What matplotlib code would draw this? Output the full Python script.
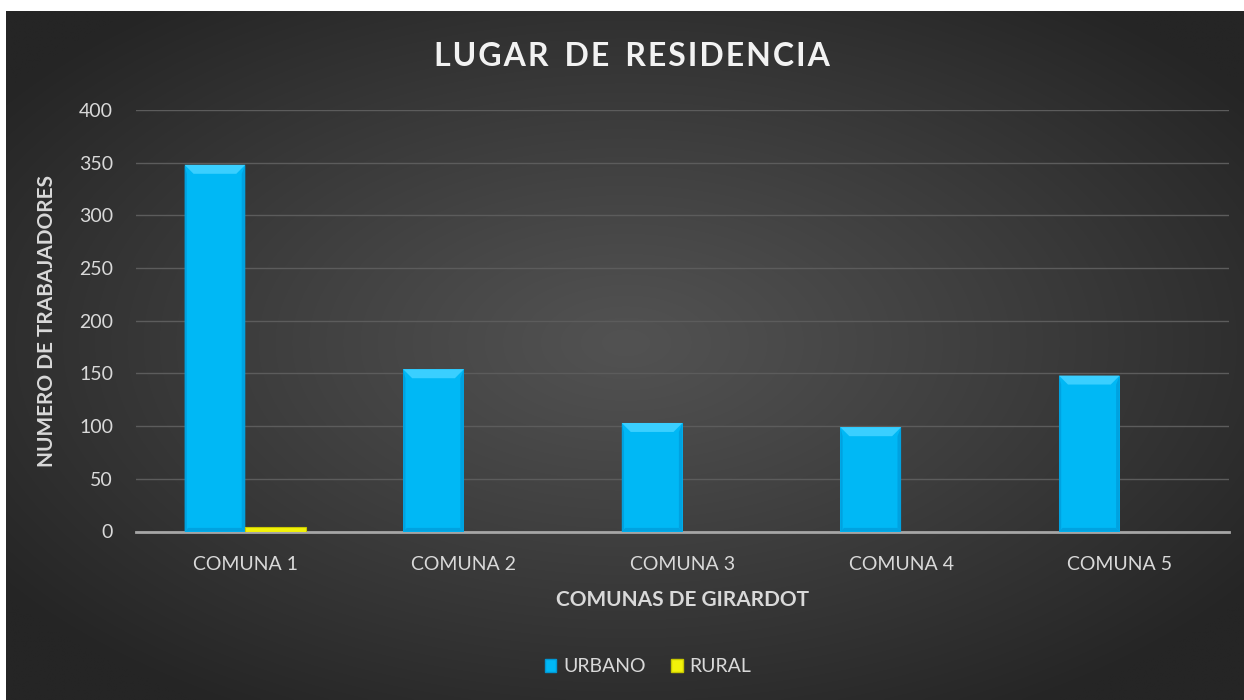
import numpy as np
import matplotlib
matplotlib.use("Agg")
import matplotlib.pyplot as plt
from matplotlib.patches import Polygon, Rectangle

categories = ["COMUNA 1", "COMUNA 2", "COMUNA 3", "COMUNA 4", "COMUNA 5"]
urbano = [348, 154, 103, 99, 148]
rural = [4, 0, 0, 0, 0]
series_names = ["URBANO", "RURAL"]
yticks = [0, 50, 100, 150, 200, 250, 300, 350, 400]

plt.rcParams['font.family'] = ['Lato', 'DejaVu Sans']
TXT = '#D9D9D9'
W, H = 1244, 700
fig = plt.figure(figsize=(W / 100, H / 100), dpi=100, facecolor='white')

# background with radial gradient
bg = fig.add_axes([6 / W, 0, (W - 6) / W, (H - 11) / H])
bg.set_axis_off()
ny, nx = 300, 540
yy, xx = np.mgrid[0:ny, 0:nx]
cx, cy = nx * 0.5, ny * 0.48
r = np.sqrt(((xx - cx) / (nx * 0.62)) ** 2 + ((yy - cy) / (ny * 0.62)) ** 2)
r = np.clip(r, 0, 1)
c_in, c_out = 0x52, 0x25
val = (c_in + (c_out - c_in) * r ** 1.1) / 255.0
img = np.dstack([val, val, val])
bg.imshow(img, aspect='auto', extent=[0, 1, 0, 1], interpolation='bilinear')
bg.set_xlim(0, 1)
bg.set_ylim(0, 1)

ax = fig.add_axes([136 / W, (H - 531.5) / H, (1229 - 136) / W, (531.5 - 110) / H])
ax.set_facecolor('none')
ax.set_ylim(0, 400)
ax.set_xlim(-0.5, len(categories) - 0.5)
ax.set_yticks(yticks)
ax.yaxis.grid(True, color='#5C5C5C', linewidth=1)
ax.set_axisbelow(True)
for s in ['top', 'right', 'left']:
    ax.spines[s].set_visible(False)
ax.spines['bottom'].set_color('#A6A6A6')
ax.spines['bottom'].set_linewidth(2)
ax.tick_params(axis='both', length=0, colors=TXT, labelsize=14)
ax.tick_params(axis='y', pad=16.5)
ax.tick_params(axis='x', pad=18)

x = np.arange(len(categories))
bw = 1 / 3.6
blue, yellow = '#00B8F5', '#F2F20A'
b1 = ax.bar(x - bw / 2, urbano, bw, color=blue, zorder=3)
b2 = ax.bar(x + bw / 2, rural, bw, color=yellow, zorder=3)
ax.set_xticks(x)
ax.set_xticklabels(categories)

# bevel effect derived from the bars' geometry
fig.canvas.draw()
p0 = ax.transData.transform((0, 0))
p1 = ax.transData.transform((1, 1))
px_x = p1[0] - p0[0]
px_y = p1[1] - p0[1]

def bevel(rect, light, dark, depth_px=9):
    bx, bh, w = rect.get_x(), rect.get_height(), rect.get_width()
    if bh <= 0:
        return
    dx = depth_px / px_x
    dy = min(depth_px / px_y, bh / 2)
    ax.add_patch(Polygon([(bx, bh), (bx + w, bh), (bx + w - dx, bh - dy), (bx + dx, bh - dy)],
                         closed=True, facecolor=light, edgecolor='none', zorder=4))
    ax.add_patch(Polygon([(bx + w, bh), (bx + w, 0), (bx + w - dx * 0.4, dy * 0.4), (bx + w - dx * 0.4, bh - dy)],
                         closed=True, facecolor=dark, edgecolor='none', zorder=4))
    ax.add_patch(Polygon([(bx, bh), (bx, 0), (bx + dx * 0.25, dy * 0.25), (bx + dx * 0.25, bh - dy)],
                         closed=True, facecolor=dark, edgecolor='none', zorder=4))
    ax.add_patch(Polygon([(bx, 0), (bx + w, 0), (bx + w - dx * 0.4, dy * 0.4), (bx + dx * 0.4, dy * 0.4)],
                         closed=True, facecolor=dark, edgecolor='none', zorder=4))

for rct in b1:
    bevel(rct, '#3ACFFF', '#00A2E0')
for rct in b2:
    if rct.get_height() > 0:
        ax.add_patch(Rectangle((rct.get_x(), 0), rct.get_width(), rct.get_height(),
                               facecolor='none', edgecolor='#C8C800', linewidth=0.8, zorder=4))

ax.set_xlabel("COMUNAS DE GIRARDOT", color=TXT, fontsize=15, fontweight='bold')
ax.set_ylabel("NUMERO DE TRABAJADORES", color=TXT, fontsize=15, fontweight='bold')
ax.yaxis.set_label_coords(-(136 - 47) / (1229 - 136), 0.5)
ax.xaxis.set_label_coords(0.5, -(600 - 531.5) / (531.5 - 110))
ax.xaxis.label.set_va('center')
ax.yaxis.label.set_va('center')

fig.text(632 / W, 1 - 56 / H, "L U G A R   D E   R E S I D E N C I A".replace("   ", "\u2002").replace(" ", "\u200a"),
         color='#F2F2F2', fontsize=23, fontweight='bold', ha='center', va='center')

handles = [Rectangle((0, 0), 1, 1, facecolor=blue, edgecolor='#0099D6'),
           Rectangle((0, 0), 1, 1, facecolor=yellow, edgecolor='#C8C800')]
leg = fig.legend(handles, series_names, loc='center', bbox_to_anchor=(648 / W, 1 - 667 / H),
                 ncol=2, frameon=False, fontsize=14, labelcolor=TXT,
                 handlelength=0.6, handleheight=0.6, handletextpad=0.35, columnspacing=1.3)

fig.savefig("out.png", dpi=100, facecolor=fig.get_facecolor())
